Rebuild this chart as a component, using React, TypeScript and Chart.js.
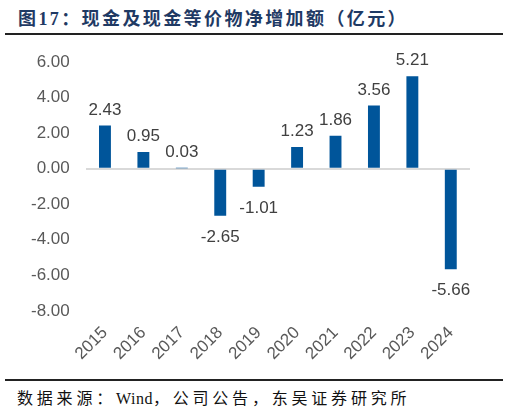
import { useEffect, useRef } from "react";
import { Chart, BarController, BarElement, CategoryScale, LinearScale } from "chart.js";
Chart.register(BarController, BarElement, CategoryScale, LinearScale);

const years = ["2015", "2016", "2017", "2018", "2019", "2020", "2021", "2022", "2023", "2024"];
const netIncrease = [2.43, 0.95, 0.03, -2.65, -1.01, 1.23, 1.86, 3.56, 5.21, -5.66];

const FONT = '"Liberation Sans", Arial, sans-serif';

// value labels above / below each bar
const valueLabels = {
  id: "valueLabels",
  afterDatasetsDraw(chart: Chart) {
    const ctx = chart.ctx;
    const meta = chart.getDatasetMeta(0);
    ctx.save();
    ctx.font = `17px ${FONT}`;
    ctx.fillStyle = "#404040";
    ctx.textAlign = "center";
    ctx.textBaseline = "alphabetic";
    meta.data.forEach((bar: any, i: number) => {
      const v = netIncrease[i];
      const y = v >= 0 ? bar.y - 11 : bar.y + 26;
      ctx.fillText(v.toFixed(2), bar.x, y);
    });
    ctx.restore();
  },
};

export default function App() {
  const canvasRef = useRef<HTMLCanvasElement | null>(null);

  useEffect(() => {
    if (!canvasRef.current) return;
    const chart = new Chart(canvasRef.current, {
      type: "bar",
      data: {
        labels: years,
        datasets: [
          {
            data: netIncrease,
            backgroundColor: "#00559A",
            categoryPercentage: 1,
            barPercentage: 0.31,
          },
        ],
      },
      options: {
        animation: false,
        responsive: true,
        maintainAspectRatio: false,
        layout: { padding: { left: 15, right: 40, top: 15, bottom: 8 } },
        plugins: { legend: { display: false }, tooltip: { enabled: false } },
        scales: {
          x: {
            grid: { display: false },
            border: { display: false },
            ticks: {
              color: "#595959",
              font: { family: FONT, size: 17 },
              minRotation: 45,
              maxRotation: 45,
              padding: 4,
            },
          },
          y: {
            min: -8,
            max: 6,
            border: { display: false },
            grid: {
              drawTicks: false,
              lineWidth: 2,
              color: (c: any) => (c.tick && c.tick.value === 0 ? "#D9D9D9" : "transparent"),
            },
            ticks: {
              stepSize: 2,
              padding: 16,
              color: "#595959",
              font: { family: FONT, size: 17 },
              callback: (v: any) => Number(v).toFixed(2),
            },
          },
        },
      },
      plugins: [valueLabels],
    });
    return () => chart.destroy();
  }, []);

  return (
    <div style={{ position: "fixed", left: 0, top: 0, width: 510, height: 413, background: "#fff" }}>
      <div
        style={{
          position: "absolute",
          left: 18,
          top: 4,
          fontFamily: '"Liberation Serif", "Noto Sans CJK SC", serif',
          fontWeight: 700,
          fontSize: 18,
          letterSpacing: 2.4,
          color: "#1F3A64",
          whiteSpace: "nowrap",
        }}
      >
        图17：现金及现金等价物净增加额（亿元）
      </div>
      <div style={{ position: "absolute", left: 5, top: 33, width: 498, height: 2, background: "#222" }} />
      <div style={{ position: "absolute", left: 0, top: 36, width: 510, height: 340 }}>
        <canvas ref={canvasRef} />
      </div>
      <div style={{ position: "absolute", left: 5, top: 379, width: 498, height: 2, background: "#222" }} />
      <div
        style={{
          position: "absolute",
          left: 17,
          top: 385,
          fontFamily: '"Liberation Serif", "Noto Sans CJK SC", serif',
          fontSize: 16,
          letterSpacing: 3.8,
          color: "#111",
          whiteSpace: "nowrap",
        }}
      >
        数据来源：<span style={{ letterSpacing: 0.5 }}>Wind</span>，公司公告，东吴证券研究所
      </div>
    </div>
  );
}
